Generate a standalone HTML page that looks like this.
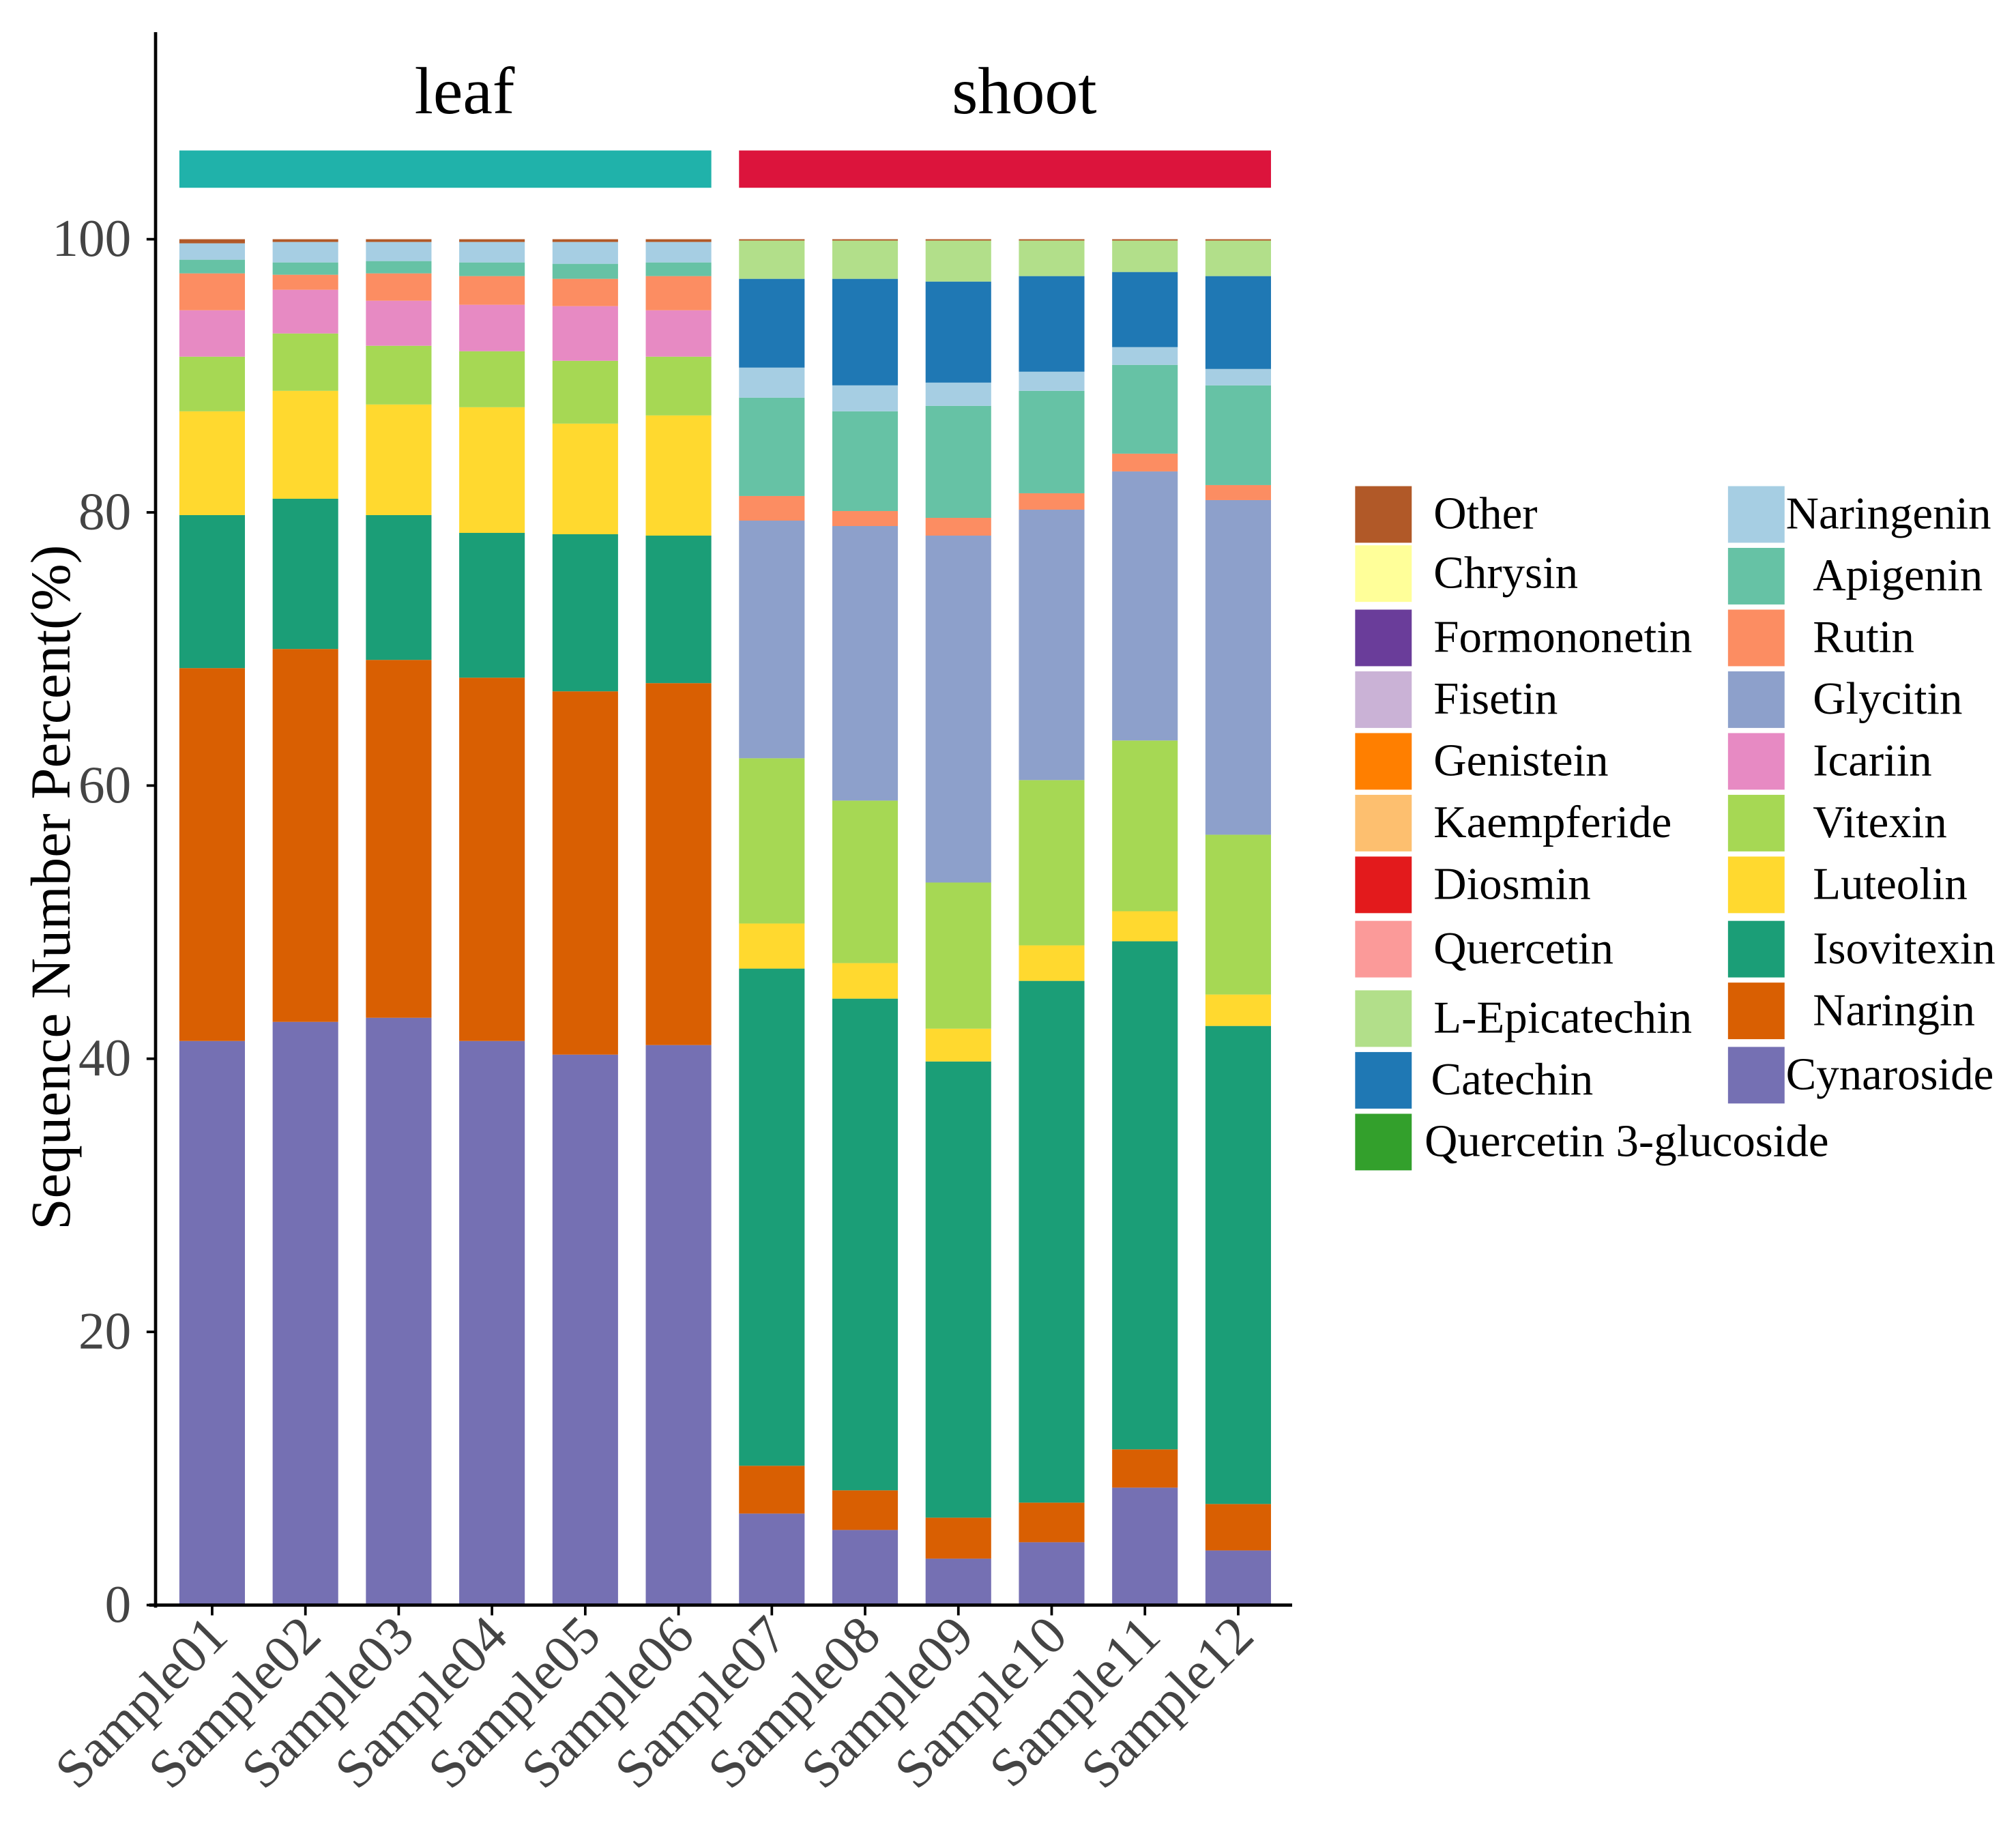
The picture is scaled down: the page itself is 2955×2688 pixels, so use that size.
<!DOCTYPE html>
<html><head><meta charset="utf-8"><style>
html,body{margin:0;padding:0;background:#fff;}
svg{display:block;}
text{font-family:"Liberation Serif",serif;}
</style></head><body>
<svg id="chart" xmlns="http://www.w3.org/2000/svg" width="2955" height="2688" viewBox="0 0 1568 1426" preserveAspectRatio="none">
<g id="bars"></g>
<g id="axes"></g>
<g id="legend"></g>
</svg>
<script>
const samples=["Sample01","Sample02","Sample03","Sample04","Sample05","Sample06","Sample07","Sample08","Sample09","Sample10","Sample11","Sample12"];
const cynaroside=[41.3,42.7,43.0,41.3,40.3,41.0,6.7,5.5,3.4,4.6,8.6,4.0];
const naringin=[27.3,27.3,26.2,26.6,26.6,26.5,3.5,2.9,3.0,2.9,2.8,3.4];
const isovitexin=[11.2,11.0,10.6,10.6,11.5,10.8,36.4,36.0,33.4,38.2,37.2,35.0];
const luteolin=[7.6,7.9,8.1,9.2,8.1,8.8,3.3,2.6,2.4,2.6,2.2,2.3];
const vitexin=[4.0,4.2,4.3,4.1,4.6,4.3,12.1,11.9,10.7,12.1,12.5,11.7];
const icariin=[3.4,3.2,3.3,3.4,4.0,3.4,0,0,0,0,0,0];
const glycitin=[0,0,0,0,0,0,17.4,20.1,25.4,19.8,19.7,24.5];
const rutin=[2.7,1.1,2.0,2.1,2.0,2.5,1.8,1.1,1.3,1.2,1.3,1.1];
const apigenin=[1.0,0.9,0.9,1.0,1.1,1.0,7.2,7.3,8.2,7.5,6.5,7.3];
const naringenin=[1.2,1.5,1.4,1.5,1.6,1.5,2.2,1.9,1.7,1.4,1.3,1.2];
const catechin=[0,0,0,0,0,0,6.5,7.8,7.4,7.0,5.5,6.8];
const epicatechin=[0,0,0,0,0,0,2.8,2.8,3.0,2.6,2.3,2.6];
const other=[0.3,0.2,0.2,0.2,0.2,0.2,0.1,0.1,0.1,0.1,0.1,0.1];
const yTicks=[0,20,40,60,80,100];
const groups=["leaf","shoot"];

const series=[
 ["cynaroside",cynaroside,"#7570b3"],["naringin",naringin,"#d95f02"],["isovitexin",isovitexin,"#1b9e77"],
 ["luteolin",luteolin,"#ffd92f"],["vitexin",vitexin,"#a6d854"],["icariin",icariin,"#e78ac3"],
 ["glycitin",glycitin,"#8da0cb"],["rutin",rutin,"#fc8d62"],["apigenin",apigenin,"#66c2a5"],
 ["naringenin",naringenin,"#a6cee3"],["catechin",catechin,"#1f78b4"],["l-epicatechin",epicatechin,"#b2df8a"],
 ["other",other,"#b15928"]];
const NS="http://www.w3.org/2000/svg";
const y0=1248,pxPer=10.62;
function ys(v){return y0-v*pxPer;}
function xc(i){return 165+i*72.55;}
const bw=51;
function mk(tag,attrs,parent,txt){const e=document.createElementNS(NS,tag);for(const k in attrs)e.setAttribute(k,attrs[k]);if(txt!==undefined)e.textContent=txt;parent.appendChild(e);return e;}
const bars=document.getElementById('bars');
samples.forEach((s,i)=>{
 let cum=0;
 series.forEach(([nm,arr,col])=>{
  const v=arr[i]; if(v<=0)return;
  const r=mk('rect',{x:xc(i)-bw/2,y:ys(cum+v),width:bw,height:v*pxPer,fill:col},bars);
  
  
  cum+=v;
 });
});
const ax=document.getElementById('axes');
let e=mk('line',{x1:121,y1:25,x2:121,y2:1250,stroke:'#000','stroke-width':2.5},ax);

e=mk('line',{x1:116,y1:1248,x2:1005,y2:1248,stroke:'#000','stroke-width':2.5},ax);

yTicks.forEach(t=>{
 mk('line',{x1:114,y1:ys(t),x2:121,y2:ys(t),stroke:'#000','stroke-width':2},ax);
 const tx=mk('text',{x:102,y:ys(t)+13,'text-anchor':'end','font-size':41,fill:'#444'},ax,String(t));
 
});
samples.forEach((s,i)=>{
 mk('line',{x1:xc(i),y1:1248,x2:xc(i),y2:1256,stroke:'#000','stroke-width':2},ax);
 const px=xc(i)+14,py=1274;
 const tx=mk('text',{x:px,y:py,'text-anchor':'end','font-size':42,fill:'#444',transform:`rotate(-45 ${px} ${py})`},ax,s);
 
});
e=mk('text',{x:54,y:690,'text-anchor':'middle','font-size':44,fill:'#000',transform:'rotate(-90 54 690)'},ax,'Sequence Number Percent(%)');

const gcols=['#20b2aa','#dc143c'];
groups.forEach((g,k)=>{
 const x1=xc(k*6)-bw/2,x2=xc(k*6+5)+bw/2;
 const r=mk('rect',{x:x1,y:117,width:x2-x1,height:29,fill:gcols[k]},ax);
 
 const t=mk('text',{x:(x1+x2)/2+15,y:88,'text-anchor':'middle','font-size':52,fill:'#000'},ax,g);
 
});
const lg=document.getElementById('legend');
const col1=[["Other","#b15928",400],["Chrysin","#ffff99",446],["Formononetin","#6a3d9a",496],["Fisetin","#cab2d6",544],["Genistein","#ff7f00",592],["Kaempferide","#fdbf6f",640],["Diosmin","#e31a1c",688],["Quercetin","#fb9a99",738],["L-Epicatechin","#b2df8a",792],["Catechin","#1f78b4",840],["Quercetin 3-glucoside","#33a02c",888]];
const col2=[["Naringenin","#a6cee3",400],["Apigenin","#66c2a5",448],["Rutin","#fc8d62",496],["Glycitin","#8da0cb",544],["Icariin","#e78ac3",592],["Vitexin","#a6d854",640],["Luteolin","#ffd92f",688],["Isovitexin","#1b9e77",738],["Naringin","#d95f02",786],["Cynaroside","#7570b3",836]];
function legendCol(list,sx,tx){list.forEach(([n,c,cy])=>{
 const g=mk('g',{},lg);
 
 
 mk('rect',{x:sx,y:cy-22,width:44,height:44,fill:c},g);
 const tX=(n==='Quercetin 3-glucoside')?1108:(n==='Catechin'?1113:(n==='Naringenin'||n==='Cynaroside'?1389:tx));
 mk('text',{x:tX,y:cy+11,'font-size':35.5,fill:'#000'},g,n);
});}
legendCol(col1,1054,1115);
legendCol(col2,1344,1410);
</script>
</body></html>
